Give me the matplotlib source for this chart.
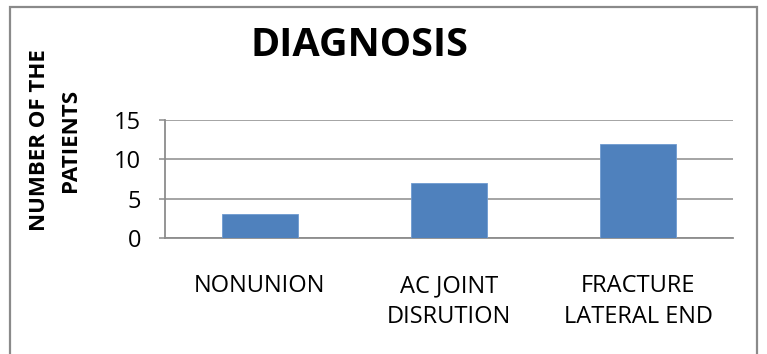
import matplotlib
matplotlib.use("Agg")
import matplotlib.pyplot as plt
from matplotlib.patches import Rectangle

categories = ["NONUNION", "AC JOINT\nDISRUTION", "FRACTURE\nLATERAL END"]
patients = [3, 7, 12]
y_ticks = [0, 5, 10, 15]

W, H = 767, 354
fig = plt.figure(figsize=(W / 100, H / 100), dpi=100)
fig.patch.set_facecolor("white")

# outer chart frame
fig.add_artist(Rectangle((10 / W, -0.2), (757 - 10) / W, 1.2 - 7 / H,
                         transform=fig.transFigure, fill=False,
                         edgecolor="#8a8a8a", linewidth=1.6))

ax = fig.add_axes([165 / W, 1 - 238 / H, (733 - 165) / W, 118 / H])
grid_c = "#8c8c8c"
x = range(len(categories))
ax.bar(x, patients, width=0.4, color="#4f81bd", edgecolor="#6f9ad0",
       linewidth=0.6, zorder=3)
ax.set_xlim(-0.5, len(categories) - 0.5)
ax.set_ylim(0, 15)
ax.set_yticks(y_ticks)
ax.set_yticklabels([str(v) for v in y_ticks], fontfamily="Open Sans", fontsize=17)
ax.set_xticks(list(x))
ax.set_xticklabels(categories, fontfamily="Open Sans", fontsize=17,
                   linespacing=1.4)
ax.tick_params(axis="x", length=0, pad=26)
ax.tick_params(axis="y", length=4, width=1.1, color=grid_c, pad=13)
ax.yaxis.grid(True, color=grid_c, linewidth=1.1, zorder=0)
for s in ("top", "right"):
    ax.spines[s].set_visible(False)
for s in ("left", "bottom"):
    ax.spines[s].set_color(grid_c)
    ax.spines[s].set_linewidth(1.3)

fig.text(359 / W, 1 - 56 / H, "DIAGNOSIS", fontfamily="Open Sans",
         fontweight="bold", fontsize=28.5, ha="center", va="baseline")

# two-line y-axis title, rotated
ylab = dict(fontfamily="Open Sans", fontweight="bold", fontsize=16,
            rotation=90, ha="center", va="center")
fig.text(40 / W, 1 - 140 / H, "NUMBER OF THE", **ylab)
fig.text(70 / W, 1 - 140 / H, "PATIENTS", **ylab)

fig.savefig("out.png", dpi=100)
